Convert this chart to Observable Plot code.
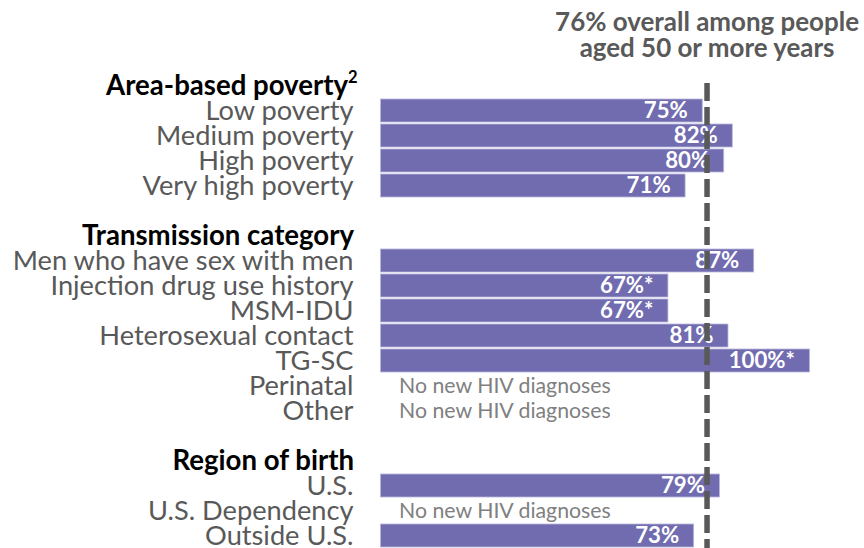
<!DOCTYPE html>
<html>
<head>
<meta charset="utf-8">
<script src="https://cdn.jsdelivr.net/npm/d3@7"></script>
<script src="https://cdn.jsdelivr.net/npm/@observablehq/plot@0.6"></script>
<style>
  html, body { margin: 0; padding: 0; background: #fff; }
  #chart { width: 864px; height: 548px; overflow: hidden; }
</style>
</head>
<body>
<div id="chart"></div>
<script>
// ---- data ----
const overall = 76;
const titleLines = ["76% overall among people", "aged 50 or more years"];

const groupHeaders = ["Area-based poverty", "Transmission category", "Region of birth"];
const groupNotes = ["2", "", ""];

const povertyLabels = ["Low poverty", "Medium poverty", "High poverty", "Very high poverty"];
const povertyValues = [75, 82, 80, 71];
const povertyFlags = ["", "", "", ""];

const transmissionLabels = ["Men who have sex with men", "Injection drug use history", "MSM-IDU",
  "Heterosexual contact", "TG-SC", "Perinatal", "Other"];
const transmissionValues = [87, 67, 67, 81, 100, null, null];
const transmissionFlags = ["", "*", "*", "", "*", "", ""];

const birthLabels = ["U.S.", "U.S. Dependency", "Outside U.S."];
const birthValues = [79, null, 73];
const birthFlags = ["", "", ""];

const noDataText = "No new HIV diagnoses";

// ---- table ----
const groups = [
  [povertyLabels, povertyValues, povertyFlags],
  [transmissionLabels, transmissionValues, transmissionFlags],
  [birthLabels, birthValues, birthFlags]
];
const rows = [];
groups.forEach(([labels, values, flags], g) => {
  rows.push({type: "header", label: groupHeaders[g], note: groupNotes[g]});
  labels.forEach((l, i) => rows.push({type: "item", label: l, value: values[i], flag: flags[i]}));
  if (g < groups.length - 1) rows.push({type: "blank", label: ""});
});
rows.forEach((r, i) => r.key = String(i));
const keys = rows.map(r => r.key);

// ---- font fitting (substitute for Calibri) ----
const FAMILY = "Lato, 'Liberation Sans', sans-serif";
const ctx = document.createElement("canvas").getContext("2d");
function fit(text, weight, target) {
  ctx.font = `${weight} 100px ${FAMILY}`;
  return +(100 * target / ctx.measureText(text).width).toFixed(2);
}
const labelSize = fit("Men who have sex with men", 400, 342);
const headerSize = fit("Transmission category", 700, 272);
const titleSize = fit("76% overall among people", 700, 304);
const valueSize = titleSize * 24 / 28;
const noDataSize = fit(noDataText, 400, 213);

const BAR = "#716cb0";
const GRAY = "#595959";

const items = rows.filter(d => d.type === "item");
const withVal = items.filter(d => d.value != null);
const noVal = items.filter(d => d.value == null);
const headers = rows.filter(d => d.type === "header");

const chart = Plot.plot({
  width: 864,
  height: 548,
  marginTop: 83,
  marginBottom: 0,
  marginLeft: 380.5,
  marginRight: 54.5,
  x: {domain: [0, 100], axis: null},
  y: {type: "band", domain: keys, range: [70.7, 550.1], paddingInner: 0.1, paddingOuter: 0.05, axis: null},
  style: {fontFamily: FAMILY, background: "#fff", overflow: "visible"},
  marks: [
    Plot.barX(withVal, {x: "value", y: "key", fill: BAR, stroke: "#b9b6dc", strokeWidth: 0.8}),
    Plot.text(withVal, {x: "value", y: "key", text: d => `${d.value}%${d.flag}`, textAnchor: "end", dx: -15,
      fill: "#fff", fontWeight: 700, fontSize: valueSize}),
    Plot.text(noVal, {x: 0, y: "key", text: () => noDataText, textAnchor: "start", dx: 18,
      fill: "#808080", fontSize: noDataSize}),
    Plot.text(items, {x: 0, y: "key", text: "label", textAnchor: "end", dx: -27.5,
      fill: GRAY, fontSize: labelSize}),
    Plot.text(headers.filter(d => !d.note), {x: 0, y: "key", text: "label", textAnchor: "end", dx: -27,
      fill: "#000", fontWeight: 700, fontSize: headerSize}),
    Plot.text(headers.filter(d => d.note), {x: 0, y: "key", text: "label", textAnchor: "end", dx: -33,
      fill: "#000", fontWeight: 700, fontSize: headerSize}),
    Plot.text(headers.filter(d => d.note), {x: 0, y: "key", text: "note", textAnchor: "start", dx: -33, dy: -8,
      fill: "#000", fontWeight: 700, fontSize: headerSize * 0.6}),
    Plot.ruleX([overall], {stroke: GRAY, strokeWidth: 5.5, strokeDasharray: "18,6"}),
    Plot.text([overall], {x: d => d, frameAnchor: "top", text: () => titleLines.join("\n"),
      lineAnchor: "middle", lineHeight: 26 / titleSize, dy: -48,
      fill: GRAY, fontWeight: 700, fontSize: titleSize})
  ]
});
document.getElementById("chart").appendChild(chart);
</script>
</body>
</html>
